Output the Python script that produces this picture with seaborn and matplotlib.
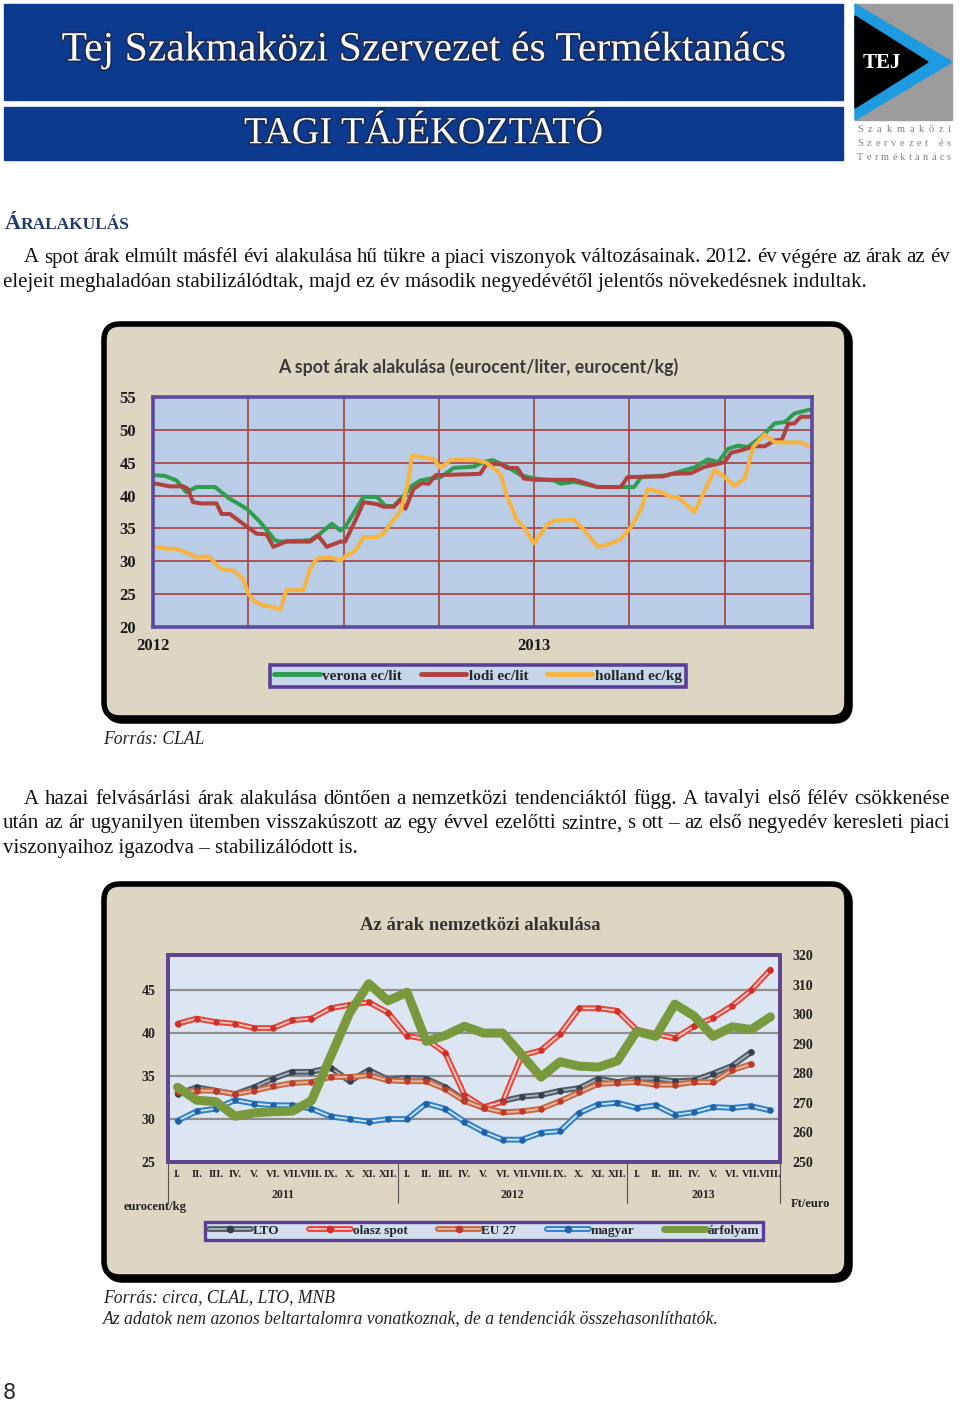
import matplotlib
matplotlib.use("Agg")
import numpy as np
import matplotlib.pyplot as plt
import matplotlib.patheffects as pe
import seaborn as sns
from matplotlib.patches import FancyBboxPatch, Rectangle, Polygon
from matplotlib.lines import Line2D
from matplotlib.transforms import IdentityTransform
from matplotlib.legend_handler import HandlerTuple

# --- chart 1: spot prices, x = months since Jan 2012 ---
verona_m = [0, 0.37, 0.74, 1.05, 1.37, 1.95, 2.42, 2.95, 3.37, 3.84, 4.0, 4.95, 5.26,
            5.63, 5.9, 6.05, 6.63, 7.05, 7.32, 7.58, 7.9, 8.16, 8.42, 8.74, 9.05, 9.47,
            10.1, 10.4, 10.7, 11.15, 11.58, 12.0, 12.63, 12.84, 13.26, 14.0, 14.73, 15.15,
            15.37, 16.2, 17.05, 17.47, 17.8, 18.1, 18.42, 18.73, 19.15, 19.58, 19.9, 20.2, 20.7]
verona = [43.1, 43, 42.3, 40.5, 41.3, 41.3, 39.5, 38, 36, 33.2, 33, 33.2, 34.2,
          35.7, 34.7, 35.2, 39.8, 39.8, 38.4, 38.4, 40, 41.5, 42.3, 42.6, 42.8, 44.2,
          44.4, 45.1, 45.4, 44.4, 43.1, 42.6, 42.3, 41.8, 42.1, 41.3, 41.3, 41.3,
          42.8, 43.1, 44.3, 45.5, 45.1, 47.1, 47.6, 47.4, 48.9, 51, 51.2, 52.5, 53.1]

lodi_m = [0, 0.53, 0.95, 1.1, 1.26, 1.53, 2.0, 2.16, 2.42, 2.95, 3.26, 3.58, 3.79, 4.2,
          4.95, 5.2, 5.47, 5.9, 6.05, 6.37, 6.63, 7.05, 7.26, 7.58, 7.8, 7.95, 8.2, 8.47,
          8.68, 8.9, 10.3, 10.5, 10.94, 11.15, 11.47, 11.68, 12.0, 13.26, 13.47, 13.68,
          14.0, 14.73, 14.94, 15.58, 16.05, 16.31, 16.94, 17.37, 17.68, 18.0, 18.2, 18.52,
          18.94, 19.26, 19.58, 19.8, 20.0, 20.2, 20.4, 20.7]
lodi = [41.9, 41.4, 41.4, 41, 39, 38.8, 38.8, 37.2, 37.2, 35.3, 34.2, 34.1, 32.2, 33,
        33, 33.9, 32.2, 33, 33, 36.2, 39, 38.7, 38.3, 38.3, 39.4, 38, 41, 41.9,
        41.8, 43.1, 43.3, 44.8, 44.8, 44.2, 44.2, 42.6, 42.4, 42.4, 42.1, 41.8,
        41.3, 41.3, 42.8, 42.9, 42.9, 43.3, 43.4, 44.4, 44.7, 45.1, 46.5, 46.9,
        47.5, 47.5, 48.4, 48.5, 50.9, 51, 52, 52]

holland_m = [0, 0.42, 0.74, 1.16, 1.37, 1.58, 1.79, 2.0, 2.2, 2.53, 2.84, 3.0, 3.16, 3.47,
             3.79, 4.0, 4.2, 4.74, 4.95, 5.16, 5.58, 5.9, 6.1, 6.37, 6.63, 7.05, 7.26, 7.47,
             7.8, 8.0, 8.16, 8.53, 8.84, 9.05, 9.37, 10.1, 10.5, 10.94, 11.15, 11.47, 11.68,
             12.0, 12.42, 12.63, 13.26, 13.58, 14.0, 14.42, 14.73, 15.05, 15.37, 15.58, 16.0,
             16.31, 16.52, 17.05, 17.68, 18.0, 18.31, 18.63, 18.9, 19.26, 19.58, 20.0, 20.4, 20.7]
holland = [32.3, 31.9, 31.9, 31.1, 30.6, 30.7, 30.7, 29.4, 28.7, 28.6, 27.3, 25.1, 24, 23.3,
           23, 22.6, 25.6, 25.6, 28.9, 30.4, 30.6, 30.1, 30.9, 31.6, 33.7, 33.7, 34.2, 35.7,
           37.7, 41.3, 46.1, 45.8, 45.5, 44.2, 45.4, 45.5, 45, 43.3, 39.8, 36.2, 35.2,
           32.7, 35.6, 36.2, 36.3, 34.7, 32.2, 32.7, 33.4, 35.2, 38, 41, 40.5,
           39.8, 39.8, 37.5, 43.9, 42.8, 41.5, 42.6, 47.4, 49.3, 48.1, 48.1, 48.1, 47.4]

spot_labels = ["verona ec/lit", "lodi ec/lit", "holland ec/kg"]
year_ticks1 = ["2012", "", "", "", "2013", "", ""]

# --- chart 2: international prices, monthly Jan 2011 - Aug 2013 ---
months = ["I.", "II.", "III.", "IV.", "V.", "VI.", "VII.", "VIII.", "IX.", "X.", "XI.", "XII."]
month_labels = months * 2 + months[:8]
years2 = ["2011", "2012", "2013"]
lto = [32.9, 33.7, 33.3, 32.9, 33.7, 34.7, 35.5, 35.5, 36.0, 34.4, 35.7, 34.6,
       34.8, 34.7, 33.7, 32.2, 31.3, 32.1, 32.6, 32.8, 33.3, 33.6, 34.7, 34.3,
       34.7, 34.7, 34.4, 34.5, 35.3, 36.2, 37.8]
olasz = [41.1, 41.7, 41.3, 41.1, 40.6, 40.6, 41.5, 41.7, 42.9, 43.3, 43.6, 42.4,
         39.7, 39.3, 37.7, 32.8, 31.4, 32.0, 37.4, 38.0, 39.9, 42.9, 42.9, 42.6,
         40.4, 39.9, 39.4, 40.8, 41.8, 43.2, 45.0, 47.4]
eu27 = [33.1, 33.3, 33.3, 32.9, 33.3, 33.8, 34.2, 34.3, 34.9, 34.9, 35.1, 34.5,
        34.4, 34.4, 33.5, 32.1, 31.3, 30.8, 30.9, 31.2, 32.1, 33.1, 34.1, 34.2,
        34.3, 34.0, 34.0, 34.3, 34.3, 35.7, 36.4]
magyar = [29.8, 30.9, 31.2, 32.2, 31.8, 31.6, 31.6, 31.2, 30.3, 30.0, 29.7, 30.0,
          30.0, 31.8, 31.2, 29.7, 28.5, 27.6, 27.6, 28.4, 28.6, 30.7, 31.7, 31.9,
          31.3, 31.6, 30.5, 30.8, 31.4, 31.3, 31.5, 31.0]
arfolyam = [275.3, 270.9, 270.4, 265.5, 266.6, 267.0, 267.2, 270.7, 285.6, 300.5, 310.3, 304.5,
            307.4, 290.8, 292.8, 295.9, 293.6, 293.6, 286.2, 278.7, 283.9, 282.4, 282.1, 284.2,
            294.2, 292.5, 303.4, 299.4, 292.5, 295.7, 294.8, 299.1]
intl_labels = ["LTO", "olasz spot", "EU 27", "magyar", "árfolyam"]

W, H = 960, 1403
SERIF = "Liberation Serif"
BLUE = "#0C3A8E"
BEIGE = "#DDD6C2"
PX = IdentityTransform()

sns.set_style("white")
plt.rcParams["font.family"] = [SERIF, "DejaVu Sans"]

fig = plt.figure(figsize=(W / 100, H / 100), dpi=100)
fig.patch.set_facecolor("white")


def add_ax(x0, y0, x1, y1):
    return fig.add_axes([x0 / W, 1 - y1 / H, (x1 - x0) / W, (y1 - y0) / H])


def put(x, y, s, **kw):
    return fig.text(x / W, 1 - y / H, s, **kw)


def box(x0, y0, x1, y1, **kw):
    fig.add_artist(Rectangle((x0, H - y1), x1 - x0, y1 - y0, transform=PX, **kw))


def poly(pts, **kw):
    fig.add_artist(Polygon([(x, H - y) for x, y in pts], closed=True, transform=PX, **kw))


def justify(x0, x1, y, words, **kw):
    r = fig.canvas.get_renderer()
    items = [put(0, y, w, va="center", **kw) for w in words]
    widths = [t.get_window_extent(r).width for t in items]
    gap = (x1 - x0 - sum(widths)) / max(len(items) - 1, 1)
    x = x0
    for t, w in zip(items, widths):
        t.set_x(x / W)
        x += w + gap


def frame(x0, y0, x1, y1):
    fig.add_artist(FancyBboxPatch((x0 + 3, H - y1 - 3), x1 - x0, y1 - y0,
                                  boxstyle="round,pad=0,rounding_size=16", zorder=-10,
                                  fc="black", ec="black", lw=4, transform=PX))
    fig.add_artist(FancyBboxPatch((x0, H - y1), x1 - x0, y1 - y0,
                                  boxstyle="round,pad=0,rounding_size=16", zorder=-9,
                                  fc=BEIGE, ec="black", lw=4, transform=PX))


# ---------- header ----------
box(4, 4, 843, 100, color=BLUE)
box(4, 107, 843, 160, color=BLUE)
shadow = [pe.withStroke(linewidth=2.5, foreground="#1B2B55")]
put(424, 50, "Tej Szakmaközi Szervezet és Terméktanács", color="white", fontsize=30,
    ha="center", va="center", path_effects=shadow)
put(424, 134, "TAGI TÁJÉKOZTATÓ", color="white", fontsize=27.5,
    ha="center", va="center", path_effects=shadow)

box(855, 4, 952, 120, color="#9C9C9C")
poly([(855, 4), (952, 62), (855, 120)], color="#1E9BE0")
poly([(855, 16), (928, 62), (855, 108)], color="black")
put(882, 63, "TEJ", color="white", fontsize=15, weight="bold", ha="center", va="center")
for yy, word in [(129, "Szakmaközi"), (143, "Szervezet és"), (157, "Terméktanács")]:
    justify(857, 951, yy, list(word), color="#808080", fontsize=7.5)

# ---------- heading and paragraphs ----------
r = fig.canvas.get_renderer()
big = put(5, 229, "Á", color="#1F3A70", fontsize=16, weight="bold", va="baseline")
wA = big.get_window_extent(r).width
put(5 + wA, 229, "RALAKULÁS", color="#1F3A70", fontsize=12.5, weight="bold", va="baseline")

body = dict(fontsize=15, color="#111111")
justify(24, 950, 258, "A spot árak elmúlt másfél évi alakulása hű tükre a piaci viszonyok "
        "változásainak. 2012. év végére az árak az év".split(), **body)
put(3, 282, "elejeit meghaladóan stabilizálódtak, majd ez év második negyedévétől "
    "jelentős növekedésnek indultak.", va="center", **body)

justify(24, 950, 799, "A hazai felvásárlási árak alakulása döntően a nemzetközi "
        "tendenciáktól függ. A tavalyi első félév csökkenése".split(), **body)
justify(3, 950, 824, "után az ár ugyanilyen ütemben visszakúszott az egy évvel ezelőtti "
        "szintre, s ott – az első negyedév keresleti piaci".split(), **body)
put(3, 849, "viszonyaihoz igazodva – stabilizálódott is.", va="center", **body)

cap = dict(style="italic", fontsize=12.7, va="center", color="#222222")
put(103, 740, "Forrás: CLAL", **cap)
put(103, 1298, "Forrás: circa, CLAL, LTO, MNB", **cap)
put(103, 1319, "Az adatok nem azonos beltartalomra vonatkoznak, de a tendenciák "
    "összehasonlíthatók.", **cap)
put(3, 1393, "8", family="DejaVu Sans", fontsize=15, va="center")

# ---------- chart 1 ----------
frame(104, 324, 847, 718)
put(478, 367, "A spot árak alakulása (eurocent/liter, eurocent/kg)", family=["Lato", "DejaVu Sans"],
    weight="bold", fontsize=12.8, color="#3A3A3A", ha="center", va="center")

ax1 = add_ax(153, 397, 812, 627)
ax1.set_facecolor("#B9CDE6")
ax1.set_axisbelow(True)
spot_colors = ["#2F9D50", "#B0413E", "#F7B43E"]
for xs, ys, c in [(verona_m, verona, spot_colors[0]), (lodi_m, lodi, spot_colors[1]),
                  (holland_m, holland, spot_colors[2])]:
    sns.lineplot(x=xs, y=ys, ax=ax1, color=c, linewidth=2.9)
ax1.set_xlim(0, 20.75)
ax1.set_ylim(20, 55)
ax1.set_yticks(range(20, 56, 5))
ax1.set_xticks(range(0, 19, 3))
ax1.set_xticklabels(year_ticks1)
ax1.grid(True, color="#A8403E", linewidth=1.2)
for s in ax1.spines.values():
    s.set_color("#5B4AA0")
    s.set_linewidth(2.6)
ax1.tick_params(axis="both", length=4, color="#6B5BA8", labelsize=12, pad=4)
ax1.tick_params(axis="y", pad=8)
for t in ax1.get_xticklabels() + ax1.get_yticklabels():
    t.set_fontweight("bold")
    t.set_color("#1A1A1A")

h1 = [Line2D([], [], color=c, lw=3.5) for c in spot_colors]
leg1 = fig.legend(h1, spot_labels, loc="center", bbox_to_anchor=(478 / W, 1 - 676 / H), ncol=3,
                  prop=dict(family=SERIF, weight="bold", size=11), handlelength=3.0,
                  handletextpad=0.15, columnspacing=1.2, borderpad=0.3, fancybox=False,
                  edgecolor="#5B3E96", facecolor="#C6D6EA", framealpha=1)
leg1.get_frame().set_linewidth(2.6)

# ---------- chart 2 ----------
frame(104, 884, 847, 1277)
put(480, 926, "Az árak nemzetközi alakulása", weight="bold", fontsize=13.5,
    color="#333333", ha="center", va="center")

ax2 = add_ax(168, 955, 780, 1162)
ax2.set_facecolor("#DCE6F2")
ax2.set_axisbelow(True)

styles = {
    "LTO": ("#4E5B68", "#A9B1BA", "#34404C"),
    "olasz spot": ("#E8453C", "#F9CDC8", "#D23027"),
    "EU 27": ("#C66A45", "#E9B9A4", "#C0392B"),
    "magyar": ("#2F80C9", "#D3E6F7", "#1F62A8"),
}
for name, ys in [("LTO", lto), ("olasz spot", olasz), ("EU 27", eu27), ("magyar", magyar)]:
    outer, inner, dot = styles[name]
    xs = np.arange(len(ys))
    sns.lineplot(x=xs, y=ys, ax=ax2, color=outer, linewidth=4.2)
    sns.lineplot(x=xs, y=ys, ax=ax2, color=inner, linewidth=1.3)
    sns.scatterplot(x=xs, y=ys, ax=ax2, color=dot, s=22, linewidth=0, zorder=5)

ax2.set_xlim(-0.5, len(month_labels) - 0.5)
ax2.set_ylim(25, 49.1)
ax2.set_yticks(range(25, 46, 5))
ax2.grid(True, axis="y", color="#8E8E8E", linewidth=1.6)
ax2.grid(False, axis="x")
ax2.set_xticks(np.arange(-0.5, len(month_labels), 1.0))
ax2.set_xticklabels([])
ax2.set_xticks(np.arange(len(month_labels)), minor=True)
ax2.set_xticklabels(month_labels, minor=True)
ax2.tick_params(axis="x", which="major", length=16, width=0.8, color="#555555")
ax2.tick_params(axis="x", which="minor", length=0, pad=6, labelsize=7.6)
ax2.tick_params(axis="y", length=0, pad=9, labelsize=10)
xt = ax2.get_xaxis_transform()
for b in [-0.5, 11.5, 23.5, len(month_labels) - 0.5]:
    ax2.plot([b, b], [0, -0.2], transform=xt, color="#555555", lw=0.8, clip_on=False)
for cx, yr in zip([5.5, 17.5, 27.5], years2):
    ax2.text(cx, -0.16, yr, transform=xt, ha="center", va="center", fontsize=8.5,
             weight="bold", color="#222222")

axr = ax2.twinx()
sns.lineplot(x=np.arange(len(arfolyam)), y=arfolyam, ax=axr, color="#789A3D", linewidth=6.5)
axr.set_ylim(250, 320)
axr.set_yticks(range(250, 321, 10))
axr.tick_params(axis="y", length=0, pad=9, labelsize=10)
axr.set_ylabel("")
ax2.set_ylabel("")

for a in (ax2, axr):
    for s in a.spines.values():
        s.set_color("#60468F")
        s.set_linewidth(2.8)
    for t in a.get_yticklabels() + a.get_xticklabels(minor=True):
        t.set_fontweight("bold")
        t.set_color("#222222")

put(155, 1207, "eurocent/kg", weight="bold", fontsize=9, ha="center", va="center", color="#222222")
put(810, 1204, "Ft/euro", weight="bold", fontsize=9, ha="center", va="center", color="#222222")

h2 = []
for name in intl_labels[:4]:
    outer, inner, dot = styles[name]
    h2.append((Line2D([], [], color=outer, lw=4.2), Line2D([], [], color=inner, lw=1.3),
               Line2D([], [], color=dot, marker="o", ms=4.5, lw=0)))
h2.append(Line2D([], [], color="#789A3D", lw=5))
leg2 = fig.legend(h2, intl_labels, loc="center", bbox_to_anchor=(484 / W, 1 - 1231 / H), ncol=5,
                  handler_map={tuple: HandlerTuple(ndivide=1)},
                  prop=dict(family=SERIF, weight="bold", size=9.5), handlelength=3.2,
                  handletextpad=0.1, columnspacing=2.3, borderpad=0.25, fancybox=False,
                  edgecolor="#5B3E96", facecolor="#D2DEEE", framealpha=1)
leg2.get_frame().set_linewidth(2.4)

fig.savefig("out.png", dpi=100)
